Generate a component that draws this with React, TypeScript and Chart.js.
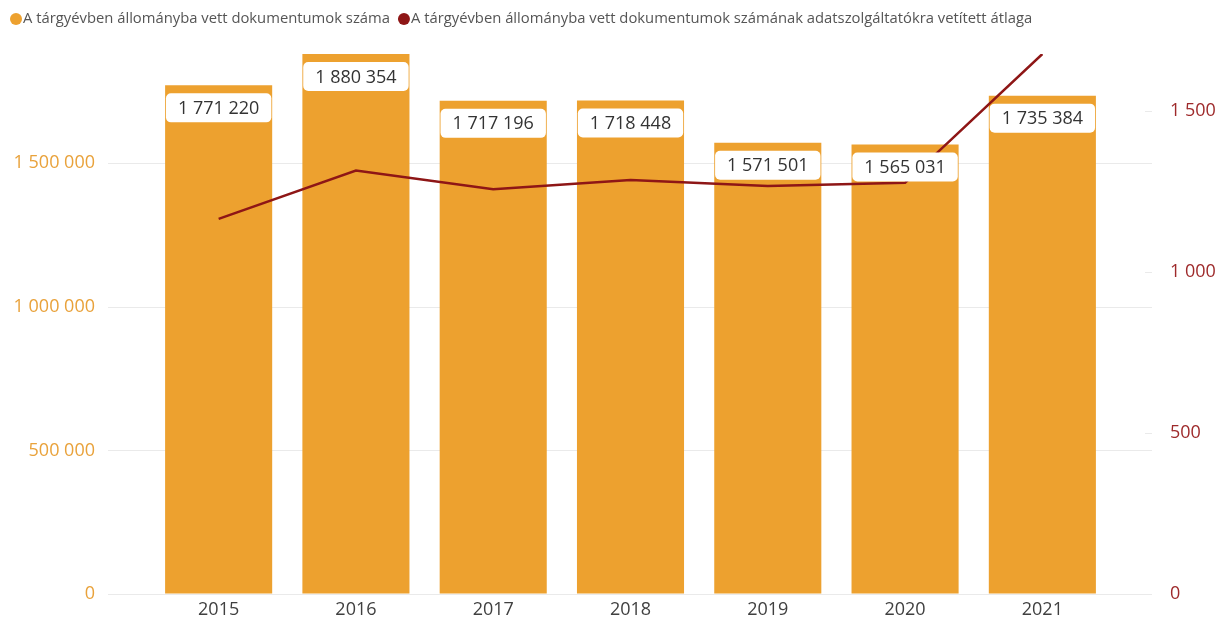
import React, { useEffect, useRef } from "react";
import { Chart, registerables } from "chart.js";

Chart.register(...registerables);

const years = ["2015", "2016", "2017", "2018", "2019", "2020", "2021"];
const docCounts = [1771220, 1880354, 1717196, 1718448, 1571501, 1565031, 1735384];
const avgPerProvider = [1165, 1315, 1257, 1286, 1267, 1277, 1677];
const leftTicks = [0, 500000, 1000000, 1500000];
const rightTicks = [0, 500, 1000, 1500];
const legendLabels = [
  "A tárgyévben állományba vett dokumentumok száma",
  "A tárgyévben állományba vett dokumentumok számának adatszolgáltatókra vetített átlaga",
];

const BAR_COLOR = "#EDA12F";
const LINE_COLOR = "#8E1616";
const LEFT_TICK_COLOR = "#E9A23B";
const RIGHT_TICK_COLOR = "#9E2A2B";
const FONT = "'Open Sans', 'Noto Sans', sans-serif";

const fmt = (v: number) => String(v).replace(/\B(?=(\d{3})+(?!\d))/g, " ");

const gridPlugin = {
  id: "customGrid",
  beforeDatasetsDraw(chart: any) {
    const ctx = chart.ctx;
    const y = chart.scales.y;
    const y1 = chart.scales.y1;
    ctx.save();
    ctx.strokeStyle = "#EAEAEA";
    ctx.lineWidth = 1;
    leftTicks.forEach((v) => {
      const py = Math.round(y.getPixelForValue(v)) + 0.5;
      ctx.beginPath();
      ctx.moveTo(100, py);
      ctx.lineTo(1144, py);
      ctx.stroke();
    });
    rightTicks.forEach((v) => {
      if (v === 0) return;
      const py = Math.round(y1.getPixelForValue(v)) + 0.5;
      ctx.beginPath();
      ctx.moveTo(1137, py);
      ctx.lineTo(1144, py);
      ctx.stroke();
    });
    ctx.restore();
  },
};

const labelPlugin = {
  id: "barLabels",
  afterDatasetsDraw(chart: any) {
    const ctx = chart.ctx;
    const meta = chart.getDatasetMeta(0);
    ctx.save();
    ctx.font = `18px ${FONT}`;
    ctx.textAlign = "center";
    ctx.textBaseline = "middle";
    meta.data.forEach((el: any, i: number) => {
      const text = fmt(docCounts[i]);
      const w = ctx.measureText(text).width + 24;
      const h = 29;
      const x = el.x - w / 2;
      const top = el.y + 8;
      ctx.fillStyle = "#FFFFFF";
      ctx.beginPath();
      (ctx as any).roundRect(x, top, w, h, 5);
      ctx.fill();
      ctx.fillStyle = "#333333";
      ctx.fillText(text, el.x, top + h / 2 + 1);
    });
    ctx.restore();
  },
};

const legendPlugin = {
  id: "customLegend",
  afterDraw(chart: any) {
    const ctx = chart.ctx;
    const colors = [BAR_COLOR, LINE_COLOR];
    ctx.save();
    ctx.font = `14.8px ${FONT}`;
    ctx.textBaseline = "middle";
    ctx.textAlign = "left";
    let cx = 8;
    const cy = 11;
    legendLabels.forEach((t, i) => {
      ctx.fillStyle = colors[i];
      ctx.beginPath();
      ctx.arc(cx, cy, 6, 0, Math.PI * 2);
      ctx.fill();
      ctx.fillStyle = "#555555";
      ctx.fillText(t, cx + 7, cy);
      cx = cx + 7 + ctx.measureText(t).width + 14;
    });
    ctx.restore();
  },
};

export default function App() {
  const ref = useRef<HTMLCanvasElement | null>(null);
  useEffect(() => {
    if (!ref.current) return;
    const prevMargin = document.body.style.margin;
    document.body.style.margin = "0";
    Chart.defaults.font.family = FONT;
    const chart = new Chart(ref.current, {
      type: "bar",
      data: {
        labels: years,
        datasets: [
          {
            type: "bar",
            label: legendLabels[0],
            data: docCounts,
            backgroundColor: BAR_COLOR,
            yAxisID: "y",
            order: 1,
            barPercentage: 0.78,
            categoryPercentage: 1,
          },
          {
            type: "line",
            label: legendLabels[1],
            data: avgPerProvider,
            borderColor: LINE_COLOR,
            backgroundColor: LINE_COLOR,
            borderWidth: 2.5,
            pointRadius: 0,
            tension: 0,
            yAxisID: "y1",
            order: 0,
          },
        ],
      },
      options: {
        responsive: false,
        animation: false,
        layout: { padding: { top: 46, left: 0, right: 0, bottom: 0 } },
        plugins: {
          legend: { display: false },
          tooltip: { enabled: false },
        },
        scales: {
          x: {
            grid: { display: false, drawTicks: false },
            border: { display: false },
            ticks: { color: "#404040", font: { size: 18 }, padding: 5 },
            afterFit: (s: any) => {
              s.height = 27;
            },
          },
          y: {
            position: "left",
            min: 0,
            max: 1880354,
            grid: {
              display: true,
              drawOnChartArea: false,
              drawTicks: true,
              tickLength: 55,
              tickColor: "rgba(0,0,0,0)",
            },
            border: { display: false },
            ticks: {
              color: LEFT_TICK_COLOR,
              font: { size: 18 },
              padding: 0,
              callback: (v: any) => fmt(Number(v)),
            },
            afterBuildTicks: (s: any) => {
              s.ticks = leftTicks.map((v) => ({ value: v }));
            },
            afterFit: (s: any) => {
              s.width = 142;
            },
          },
          y1: {
            position: "right",
            min: 0,
            max: 1677,
            grid: {
              display: true,
              drawOnChartArea: false,
              drawTicks: true,
              tickLength: 59,
              tickColor: "rgba(0,0,0,0)",
            },
            border: { display: false },
            ticks: {
              color: RIGHT_TICK_COLOR,
              font: { size: 18 },
              padding: 0,
              callback: (v: any) => fmt(Number(v)),
            },
            afterBuildTicks: (s: any) => {
              s.ticks = rightTicks.map((v) => ({ value: v }));
            },
            afterFit: (s: any) => {
              s.width = 105;
            },
          },
        },
      } as any,
      plugins: [gridPlugin, labelPlugin, legendPlugin],
    });
    return () => {
      chart.destroy();
      document.body.style.margin = prevMargin;
    };
  }, []);
  return (
    <div
      style={{
        width: 1216,
        height: 621,
        boxSizing: "border-box",
        paddingTop: 8,
        paddingLeft: 8,
        overflow: "hidden",
      }}
    >
      <canvas ref={ref} width={1208} height={613} style={{ display: "block" }} />
    </div>
  );
}
